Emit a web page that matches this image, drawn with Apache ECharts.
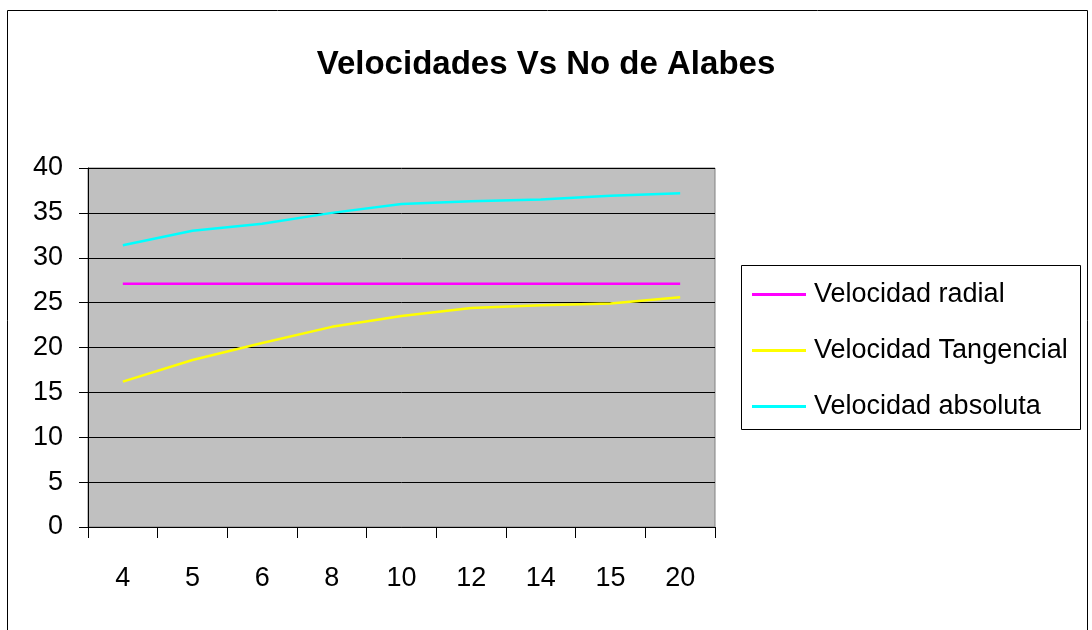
<!DOCTYPE html>
<html><head><meta charset="utf-8">
<script src="https://cdn.jsdelivr.net/npm/echarts@6/dist/echarts.min.js"></script>
<style>html,body{margin:0;padding:0;background:#fff}#c{width:1092px;height:630px}</style>
</head><body><div id="c"></div>
<script>
const categories = ['4','5','6','8','10','12','14','15','20'];
const velocidadRadial = [27.1,27.1,27.1,27.1,27.1,27.1,27.1,27.1,27.1];
const velocidadTangencial = [16.2,18.6,20.5,22.3,23.5,24.4,24.7,24.9,25.6];
const velocidadAbsoluta = [31.4,33.0,33.8,35.0,36.0,36.3,36.5,36.9,37.2];
const yTicks = {min:0, max:40, interval:5};
const FONT = "'Liberation Sans Narrow','Arial Narrow','Liberation Sans',Arial,sans-serif";

const chart = echarts.init(document.getElementById('c'), null, {renderer:'canvas'});
chart.setOption({
  animation:false,
  backgroundColor:'#fff',
  title:{text:'Velocidades Vs No de Alabes', left:'center', top:43,
    textStyle:{fontFamily:FONT, fontWeight:'bold', fontSize:33, color:'#000'}},
  graphic:[
    {type:'rect', shape:{x:7.5,y:10.5,width:1080,height:640}, style:{fill:null, stroke:'#000', lineWidth:1}, z:-1},
    {type:'rect', shape:{x:741.5,y:265.5,width:339,height:164}, style:{fill:'#fff', stroke:'#000', lineWidth:1}, z:0}
  ],
  legend:{orient:'vertical', left:752, top:281, padding:0, itemWidth:54, itemHeight:3, itemGap:29, icon:'rect',
    textStyle:{fontFamily:FONT, fontSize:27, color:'#000', padding:[0,0,0,3]}, z:5,
    data:['Velocidad radial','Velocidad Tangencial','Velocidad absoluta']},
  grid:{left:88, right:377, top:168, bottom:103, show:true, backgroundColor:'#C0C0C0', borderColor:'#808080', borderWidth:1},
  xAxis:{type:'category', data:categories, boundaryGap:true,
    axisLine:{lineStyle:{color:'#000', width:1}},
    axisTick:{show:true, length:11, lineStyle:{color:'#000'}},
    axisLabel:{fontFamily:FONT, fontSize:27, color:'#000', margin:38}},
  yAxis:{type:'value', min:yTicks.min, max:yTicks.max, interval:yTicks.interval,
    axisLine:{show:true, lineStyle:{color:'#000', width:1}},
    axisTick:{show:true, length:9, lineStyle:{color:'#000'}},
    splitLine:{show:true, lineStyle:{color:'#000', width:1}},
    axisLabel:{fontFamily:FONT, fontSize:27, color:'#000', margin:25}},
  series:[
    {name:'Velocidad radial', type:'line', data:velocidadRadial, showSymbol:false, color:'#FF00FF', lineStyle:{width:2.5, color:'#FF00FF'}},
    {name:'Velocidad Tangencial', type:'line', data:velocidadTangencial, showSymbol:false, color:'#FFFF00', lineStyle:{width:2.5, color:'#FFFF00'}},
    {name:'Velocidad absoluta', type:'line', data:velocidadAbsoluta, showSymbol:false, color:'#00FFFF', lineStyle:{width:2.5, color:'#00FFFF'}}
  ]
});
</script></body></html>
